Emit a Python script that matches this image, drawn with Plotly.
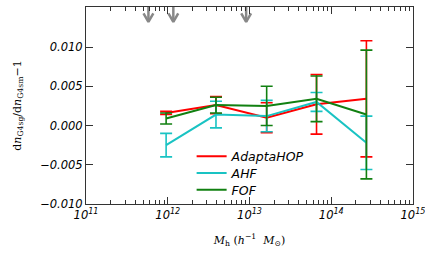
import numpy as np
import plotly.graph_objects as go

# data
mass = [10**11.98, 10**12.59, 10**13.21, 10**13.82, 10**14.43]
adapta = [0.0016, 0.0026, 0.0010, 0.0027, 0.0034]
adapta_err = [0.0002, 0.0011, 0.0019, 0.0038, 0.0074]
ahf = [-0.0025, 0.0014, 0.0012, 0.0030, -0.0022]
ahf_err = [0.0015, 0.0017, 0.0020, 0.0012, 0.0034]
fof = [0.0009, 0.0026, 0.0025, 0.0034, 0.0014]
fof_err = [0.0007, 0.0010, 0.0025, 0.0029, 0.0082]
arrow_mass = [5.8e11, 1.17e12, 9.1e12]
names = ["AdaptaHOP", "AHF", "FOF"]
colors = ["#ff0000", "#19c3c3", "#118011"]
ytickvals = [-0.010, -0.005, 0.0, 0.005, 0.010]
yticktext = ["\u22120.010", "\u22120.005", "0.000", "0.005", "0.010"]
xtickvals = [1e11, 1e12, 1e13, 1e14, 1e15]
xticktext = ["10<sup>11</sup>", "10<sup>12</sup>", "10<sup>13</sup>", "10<sup>14</sup>", "10<sup>15</sup>"]

legend_ids = ["legend", "legend2", "legend3"]
legend_rows = [0.24, 0.155, 0.07]

fig = go.Figure()
for name, vals, errs, col, lid in zip(names, [adapta, ahf, fof], [adapta_err, ahf_err, fof_err], colors, legend_ids):
    fig.add_trace(go.Scatter(
        x=mass, y=vals, mode="lines", name=name, legend=lid,
        line=dict(color=col, width=2),
        error_y=dict(type="data", array=errs, visible=True, color=col, thickness=1.6, width=6),
    ))

# arrows
ax, ay = [], []
ytop, ytip, yarm = 0.0152, 0.0132, 0.0143
half = 10**0.06
for m in arrow_mass:
    ax += [m, m, None, m / half, m, m * half, None]
    ay += [ytop, ytip, None, yarm, ytip, yarm, None]
fig.add_trace(go.Scatter(x=ax, y=ay, mode="lines", line=dict(color="#888888", width=2.5),
                         showlegend=False, hoverinfo="skip", cliponaxis=False))

legfont = dict(family="DejaVu Sans", size=12.5, color="black", style="italic")
legends = {}
for lid, ry in zip(legend_ids, legend_rows):
    legends[lid] = dict(x=0.323, y=ry, xanchor="left", yanchor="middle", bgcolor="rgba(0,0,0,0)",
                        font=legfont, itemwidth=30)

tickfont = dict(family="DejaVu Sans", size=11.5, color="black", style="italic")
fig.update_layout(
    width=425, height=264,
    margin=dict(l=86, r=12, t=7, b=60),
    paper_bgcolor="white", plot_bgcolor="white",
    showlegend=True,
    **legends,
    xaxis=dict(type="log", range=[10.9999, 15.0001], tickvals=xtickvals, ticktext=xticktext,
               ticks="inside", ticklen=7, tickwidth=1, tickcolor="#333",
               showline=True, linecolor="#333", linewidth=1, mirror="ticks",
               showgrid=False, zeroline=False, tickfont=tickfont, automargin=False,
               ticklabeloverflow="allow",
               minor=dict(ticks="inside", ticklen=4, tickcolor="#333", dtick="D1", showgrid=False),
               title=dict(text="<i>M</i><sub>h</sub> (<i>h</i><sup>\u22121</sup>  <i>M</i><sub>\u2299</sub>)",
                          font=dict(family="DejaVu Serif", size=11, color="black"), standoff=15)),
    yaxis=dict(range=[-0.010, 0.0151], tickvals=ytickvals, ticktext=yticktext,
               ticks="inside", ticklen=7, tickwidth=1, tickcolor="#333",
               showline=True, linecolor="#333", linewidth=1, mirror="ticks",
               showgrid=False, zeroline=False, tickfont=tickfont, automargin=False,
               ticklabeloverflow="allow",
               title=dict(text="d<i>n</i><sub>G4sg</sub>/d<i>n</i><sub>G4sm</sub>\u22121",
                          font=dict(family="DejaVu Serif", size=11, color="black"), standoff=16)),
)
fig.write_html("out.html", config={"displayModeBar": False},
               post_script="document.body.style.margin='0px';document.body.style.overflow='hidden';")
